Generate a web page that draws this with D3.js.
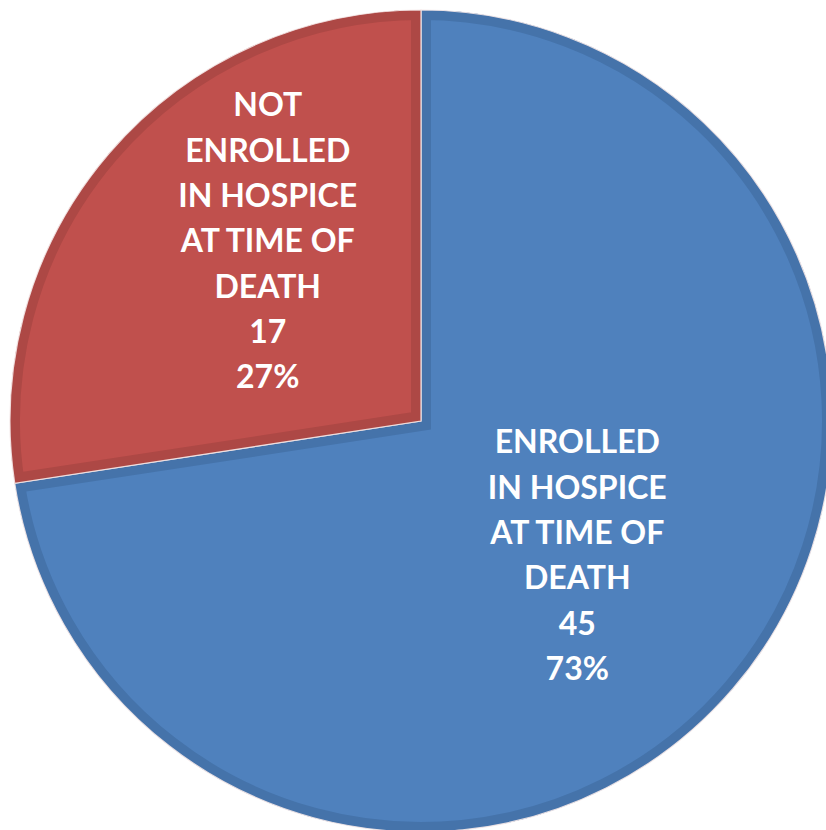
<!DOCTYPE html>
<html>
<head>
<meta charset="utf-8">
<script src="https://cdn.jsdelivr.net/npm/d3@7/dist/d3.min.js"></script>
<style>
  html, body { margin: 0; padding: 0; background: #fff; }
  svg { display: block; }
  .lbl { font-family: Lato, "Open Sans", sans-serif; font-weight: 700; fill: #fff; }
</style>
</head>
<body>
<svg id="chart" width="826" height="830"></svg>
<script>
// Hospice enrollment at time of death
const categories = ["ENROLLED IN HOSPICE AT TIME OF DEATH", "NOT ENROLLED IN HOSPICE AT TIME OF DEATH"];
const labelLines = [
  ["ENROLLED", "IN HOSPICE", "AT TIME OF", "DEATH"],
  ["NOT", "ENROLLED", "IN HOSPICE", "AT TIME OF", "DEATH"]
];
const values = [45, 17];
const fills = ["#4F81BD", "#C0504D"];
const edgeFills = ["#4573AA", "#AD4845"];

const W = 826, H = 830;
const cx = 421, cy = 421, R = 411;
const labelRadius = 206;
const labelShift = [[0, 0], [3, -46]];   // nudge for the smaller slice's label
const lineHeight = 45.3;
const fontSize = 32;

const svg = d3.select("#chart");
const g = svg.append("g").attr("transform", `translate(${cx},${cy})`);

const total = d3.sum(values);
const data = values.map((v, i) => ({ name: categories[i], value: v, i }));
const pie = d3.pie().sort(null).value(d => d.value);
const arcs = pie(data);
const arc = d3.arc().innerRadius(0).outerRadius(R);
const labelArc = d3.arc().innerRadius(labelRadius).outerRadius(labelRadius);

const defs = svg.append("defs");
arcs.forEach((d, i) => {
  defs.append("clipPath").attr("id", "clip" + i)
    .append("path").attr("d", arc(d));
});

const slices = g.selectAll("g.slice").data(arcs).join("g").attr("class", "slice");

// base fill
slices.append("path")
  .attr("d", arc)
  .attr("fill", d => fills[d.data.i]);

// darker inner rim along every edge of the slice
slices.append("path")
  .attr("d", arc)
  .attr("fill", "none")
  .attr("stroke", d => edgeFills[d.data.i])
  .attr("stroke-width", 20)
  .attr("stroke-linejoin", "miter")
  .attr("clip-path", d => `url(#clip${d.data.i})`);

// thin light seam between the slices
slices.append("path")
  .attr("d", arc)
  .attr("fill", "none")
  .attr("stroke", "#f4e8e8")
  .attr("stroke-width", 1.2)
  .attr("stroke-opacity", 0.9);

// labels: category lines, count, percentage
slices.each(function (d) {
  const i = d.data.i;
  const [lx, ly] = labelArc.centroid(d);
  const px = lx + labelShift[i][0];
  const py = ly + labelShift[i][1];
  const lines = labelLines[i].concat([String(d.data.value), Math.round(d.data.value / total * 100) + "%"]);
  const n = lines.length;
  const capH = fontSize * 0.72;
  const t = d3.select(this).append("text")
    .attr("class", "lbl")
    .attr("text-anchor", "middle")
    .attr("font-size", fontSize);
  lines.forEach((s, k) => {
    t.append("tspan")
      .attr("x", px)
      .attr("y", py - (n - 1) / 2 * lineHeight + capH / 2 + k * lineHeight)
      .text(s);
  });
});
</script>
</body>
</html>
